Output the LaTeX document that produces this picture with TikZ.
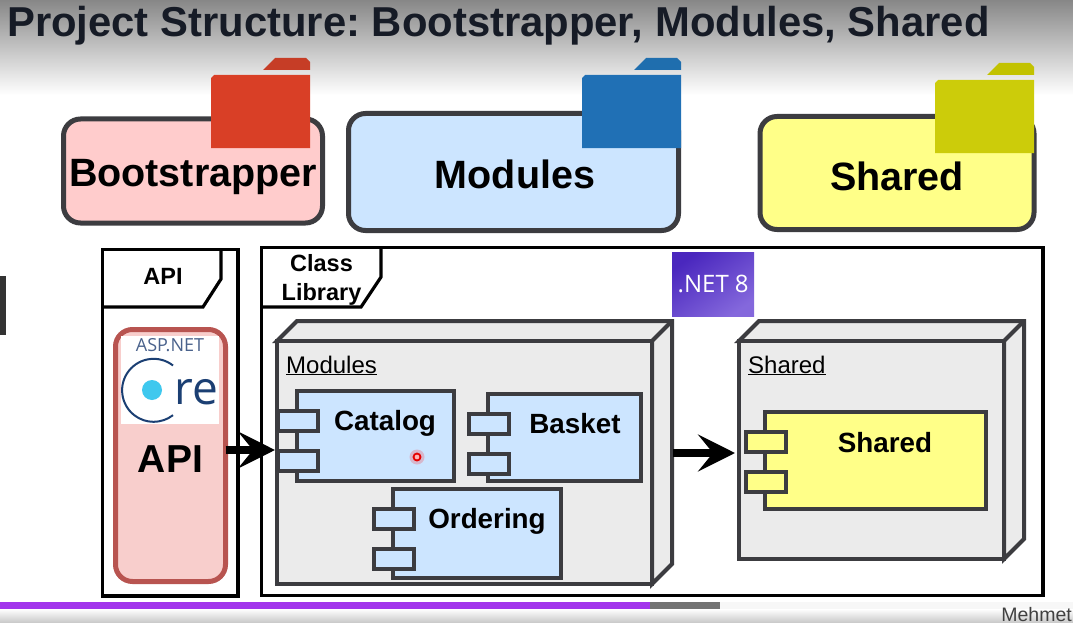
\documentclass[tikz,border=0pt]{standalone}
\usepackage{fontspec}
\setmainfont{Liberation Sans}
\newfontfamily\logofont{Open Sans}
\usetikzlibrary{positioning, arrows.meta, calc}

\definecolor{edgegray}{HTML}{3C3C40}
\definecolor{titleink}{HTML}{161B26}
\definecolor{pinkfill}{HTML}{FFCCCC}
\definecolor{bluefill}{HTML}{CCE5FF}
\definecolor{yellowfill}{HTML}{FFFF88}
\definecolor{nodegray}{HTML}{EBEBEB}
\definecolor{apiedge}{HTML}{B85450}
\definecolor{apifill}{HTML}{F8CECC}
\definecolor{redbody}{HTML}{D93F26}
\definecolor{redtab}{HTML}{C63D26}
\definecolor{bluebody}{HTML}{2070B5}
\definecolor{bluetab}{HTML}{1F6EAE}
\definecolor{yellowbody}{HTML}{CCCC0A}
\definecolor{yellowtab}{HTML}{C2C200}
\definecolor{corenavy}{HTML}{1B3F73}
\definecolor{aspgray}{HTML}{4A628C}
\definecolor{coredotblue}{HTML}{3FC8EE}
\definecolor{netdark}{HTML}{4A27BE}
\definecolor{netlight}{HTML}{8468DC}
\definecolor{barpurple}{HTML}{A235EC}

\tikzset{
    title/.style={font=\bfseries\fontsize{41.8}{41.8}\selectfont, text=titleink, inner sep=0pt},
    pkg/.style={draw=edgegray, line width=5pt, rounded corners=17pt, outer sep=0pt, anchor=north west},
    pkglabel/.style={font=\bfseries\fontsize{39.5}{39.5}\selectfont, inner sep=0pt, anchor=base},
    framebox/.style={draw=black, line width=3.2pt, outer sep=0pt},
    tag/.style={font=\bfseries\fontsize{23.5}{29}\selectfont, inner sep=0pt, align=center},
    boxedge/.style={draw=edgegray, line width=4pt, outer sep=0pt},
    nodelabel/.style={font=\fontsize{24}{24}\selectfont, inner sep=0pt, anchor=base west},
    complabel/.style={font=\bfseries\fontsize{27.8}{27.8}\selectfont, inner sep=0pt, anchor=base},
    bigarrow/.style={line width=8pt, -{Stealth[length=37pt, width=37pt, inset=15pt]}},
}

% folder icon: #1 left, #2 top of the body, #3 colour of body, #4 colour of tab
\newcommand{\foldericon}[4]{
    \fill[#3] (#1,#2+73) -- (#1,#2+3) -- ++(3,-3) -- (#1+99,#2) -- (#1+99,#2+73) -- cycle;
    \fill[#4] (#1+52,#2-5) -- (#1+64,#2-17) -- (#1+95,#2-17) -- ++(4,4) -- (#1+99,#2-5) -- cycle;
}

% component: #1 name, #2 left, #3 top, #4 right, #5 bottom, #6 fill
\newcommand{\component}[6]{
    \node[boxedge, fill=#6, inner sep=0pt, minimum width=#4pt-#2pt, minimum height=#5pt-#3pt, anchor=north west] (#1) at (#2,#3) {};
    \draw[boxedge, fill=#6] (#2-19,#3+20) rectangle (#2+21,#3+40);
    \draw[boxedge, fill=#6] (#2-19,#3+60) rectangle (#2+21,#3+80);
}

% deployment node: #1 name, #2 left, #3 top, #4 right, #5 bottom
\newcommand{\depthbox}[5]{
    \draw[boxedge, fill=nodegray, line join=miter] (#2,#3) -- (#2+20,#3-20) -- (#4+20,#3-20) -- (#4+20,#5-20) -- (#4,#5) -- (#4,#3) -- cycle;
    \draw[boxedge] (#4,#3) -- (#4+20,#3-20);
    \node[boxedge, fill=nodegray, inner sep=0pt, minimum width=#4pt-#2pt, minimum height=#5pt-#3pt, anchor=north west] (#1) at (#2,#3) {};
}

\begin{document}
\frenchspacing
\begin{tikzpicture}[x=1pt, y=-1pt]
    \useasboundingbox (0,0) rectangle (1073,623);
    \fill[white] (0,0) rectangle (1073,623);

    % video overlay top and bottom
    \shade[top color=black!47, bottom color=white] (0,0) rectangle (1073,95);
    \shade[top color=white, bottom color=black!22] (0,609) rectangle (1073,623);
    \fill[black!3] (720,602) rectangle (1073,609);
    \fill[black!80] (0,276) rectangle (5.5,335);

    \node[title, anchor=base west] (title) at (7,37) {Project Structure: Bootstrapper, Modules, Shared};

    % top row
    \node[pkg, fill=pinkfill, minimum width=259pt, minimum height=104pt] (bootbox) at (63.5,119) {};
    \foldericon{211}{75}{redbody}{redtab}
    \node[pkglabel] (boottext) at (193,186) {Bootstrapper};

    \node[pkg, fill=bluefill, minimum width=330pt, minimum height=117pt] (modbox) at (348.5,113.5) {};
    \foldericon{582}{75}{bluebody}{bluetab}
    \node[pkglabel] (modtext) at (515,188) {Modules};

    \node[pkg, fill=yellowfill, minimum width=274pt, minimum height=113pt] (sharedbox) at (760,116.5) {};
    \foldericon{935}{80}{yellowbody}{yellowtab}
    \node[pkglabel] (sharedtext) at (897,190) {Shared};

    % api frame
    \node[framebox, minimum width=135.5pt, minimum height=346.5pt, anchor=north west, inner sep=0pt] (apiframe) at (102.5,249.5) {};
    \draw[framebox] (103,307) -- (203,307) -- (221,279) -- (221,249);
    \node[tag] (apitag) at (163,276) {API};
    \node[draw=apiedge, fill=apifill, line width=5pt, rounded corners=17pt, outer sep=0pt, minimum width=110pt, minimum height=252pt, anchor=north west, inner sep=0pt] (apibox) at (115.5,329.5) {};
    \node[fill=white, minimum width=98pt, minimum height=88pt, inner sep=0pt, anchor=north west] (logo) at (121,336) {};
    \node[font=\logofont\fontsize{18}{18}\selectfont, text=aspgray, inner sep=0pt, anchor=base] (aspnet) at (170,351) {ASP.NET};
    \draw[corenavy, line width=2pt] (173,365.5) arc[start angle=52, end angle=308, radius=31.5pt];
    \node[circle, fill=coredotblue, minimum size=20pt, inner sep=0pt] (coredot) at (152,390) {};
    \node[font=\logofont\fontsize{46}{46}\selectfont, text=corenavy, inner sep=0pt, anchor=base west] (coretext) at (174.5,404) {re};
    \node[font=\bfseries\fontsize{39}{39}\selectfont, inner sep=0pt, anchor=base] (apitext) at (170.5,472) {API};

    % class library frame
    \node[framebox, minimum width=781.5pt, minimum height=348pt, anchor=north west, inner sep=0pt] (libframe) at (261.5,247.5) {};
    \draw[framebox] (262,307) -- (361,307) -- (381,277) -- (381,248);
    \node[tag] (libtag) at (321.5,279.5) {Class\\Library};

    \node[top color=netdark, bottom color=netlight, shading angle=35, minimum width=82pt, minimum height=64pt, inner sep=0pt, anchor=north west, font=\logofont\fontsize{24}{24}\selectfont, text=white] (dotnet) at (672,252) {.NET 8};

    % modules node
    \depthbox{modnode}{277}{341}{652}{584}
    \node[nodelabel] (modlabel) at (286,373) {\underline{Modules}};
    \component{catalog}{297}{391}{454}{481}{bluefill}
    \node[complabel] (cattext) at (385,430) {Catalog};
    \component{basket}{488}{394}{641}{481}{bluefill}
    \node[complabel] (baskettext) at (575,433) {Basket};
    \component{ordering}{393}{489}{561}{578}{bluefill}
    \node[complabel] (ordtext) at (487,528) {Ordering};
    \node[circle, fill=red, fill opacity=0.2, minimum size=15pt, inner sep=0pt] (pointerglow) at (417,457) {};
    \node[circle, fill=red!30, draw=red!90!black, line width=1.8pt, minimum size=7pt, inner sep=0pt] (pointer) at (417,457) {};

    % shared node
    \depthbox{sharednode}{739}{341}{1004}{559}
    \node[nodelabel] (sharedlabel) at (748,373) {\underline{Shared}};
    \component{sharedcomp}{765}{412}{986}{509}{yellowfill}
    \node[complabel] (sharedcomptext) at (885,452) {Shared};

    % arrows
    \draw[bigarrow, shorten >=2pt] (apibox.east |- 0,450) -- (modnode.west |- 0,450);
    \draw[bigarrow, shorten >=4pt] (modnode.east |- 0,453) ++(21,0) -- (sharednode.west |- 0,453);

    % progress bar
    \fill[barpurple] (0,602) rectangle (650,609);
    \fill[black!55] (650,602) rectangle (720,609);
    \node[font=\fontsize{19.5}{19.5}\selectfont, text=black!75, inner sep=0pt, anchor=base east] (author) at (1072,621) {Mehmet};
\end{tikzpicture}
\end{document}
